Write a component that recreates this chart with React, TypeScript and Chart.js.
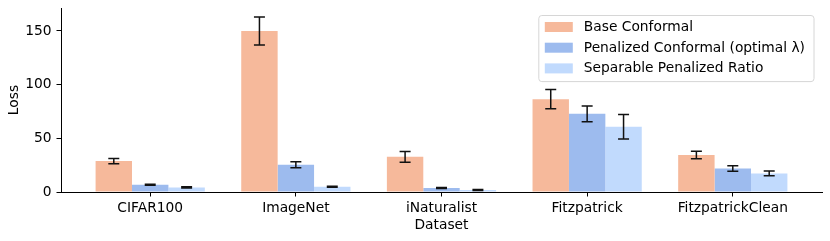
import React, { useEffect, useRef } from "react";
import { Chart, registerables } from "chart.js";

Chart.register(...registerables);

const categories = ["CIFAR100", "ImageNet", "iNaturalist", "Fitzpatrick", "FitzpatrickClean"];
const seriesLabels = ["Base Conformal", "Penalized Conformal (optimal λ)", "Separable Penalized Ratio"];
const baseConformal = [28.8, 150, 32.8, 86.5, 34.4];
const baseErr = [2.4, 13, 5, 9, 3.5];
const penalized = [6.8, 25.4, 3.7, 72.8, 21.9];
const penalizedErr = [0.5, 2.7, 0.4, 7.4, 2.6];
const separable = [4.3, 4.9, 1.9, 60.7, 17.3];
const separableErr = [0.5, 0.5, 0.4, 11.4, 2.2];
const yTicks = [0, 50, 100, 150];

const colors = ["#F6B99B", "#9DBBEE", "#C1DAFD"];
const FONT = "'DejaVu Sans', sans-serif";
const FS = 13.8;

const errorBarPlugin = {
  id: "errorBars",
  afterDatasetsDraw(chart: any) {
    const ctx = chart.ctx;
    const yScale = chart.scales.y;
    ctx.save();
    ctx.strokeStyle = "#111";
    ctx.lineWidth = 1.5;
    chart.data.datasets.forEach((ds: any, di: number) => {
      const meta = chart.getDatasetMeta(di);
      meta.data.forEach((bar: any, i: number) => {
        const v = ds.data[i].y;
        const e = ds.errors[i];
        const yTop = yScale.getPixelForValue(v + e);
        const yBot = yScale.getPixelForValue(v - e);
        const x = bar.x;
        const cap = 5.5;
        ctx.beginPath();
        ctx.moveTo(x, yTop);
        ctx.lineTo(x, yBot);
        ctx.moveTo(x - cap, yTop);
        ctx.lineTo(x + cap, yTop);
        ctx.moveTo(x - cap, yBot);
        ctx.lineTo(x + cap, yBot);
        ctx.stroke();
      });
    });
    ctx.restore();
  },
};

const legendPlugin = {
  id: "boxLegend",
  afterDraw(chart: any) {
    const ctx = chart.ctx;
    const area = chart.chartArea;
    ctx.save();
    ctx.font = `${FS}px ${FONT}`;
    const labels = chart.data.datasets.map((d: any) => d.label);
    const maxW = Math.max(...labels.map((l: string) => ctx.measureText(l).width));
    const right = area.right - 8;
    const top = 15.5;
    const rowH = 20.7;
    const padL = 6;
    const patchW = 28;
    const gap = 11;
    const width = padL + patchW + gap + maxW + 9;
    const left = right - width;
    const height = rowH * labels.length + 4;
    ctx.beginPath();
    (ctx as any).roundRect(left, top, width, height, 3);
    ctx.fillStyle = "rgba(255,255,255,0.8)";
    ctx.fill();
    ctx.strokeStyle = "#d6d6d6";
    ctx.lineWidth = 1;
    ctx.stroke();
    labels.forEach((l: string, i: number) => {
      const cy = top + 11.5 + i * rowH;
      ctx.fillStyle = chart.data.datasets[i].backgroundColor;
      ctx.fillRect(left + padL, cy - 5, patchW, 10);
      ctx.fillStyle = "#000";
      ctx.textBaseline = "middle";
      ctx.textAlign = "left";
      ctx.fillText(l, left + padL + patchW + gap, cy + 0.5);
    });
    ctx.restore();
  },
};

export default function App() {
  const ref = useRef<HTMLCanvasElement>(null);
  useEffect(() => {
    if (!ref.current) return;
    const series = [baseConformal, penalized, separable];
    const errs = [baseErr, penalizedErr, separableErr];
    const chart = new Chart(ref.current, {
      type: "bar",
      data: {
        datasets: series.map((s, si) => ({
          label: seriesLabels[si],
          data: s.map((v, i) => ({ x: i, y: v })),
          errors: errs[si],
          backgroundColor: colors[si],
          borderWidth: 0,
          barPercentage: 1,
          categoryPercentage: 0.75,
        })) as any,
      },
      options: {
        animation: false,
        responsive: false,
        devicePixelRatio: 1,
        layout: { padding: { top: 8, right: 8, bottom: 7, left: 0 } },
        plugins: { legend: { display: false }, tooltip: { enabled: false } },
        scales: {
          x: {
            type: "linear",
            min: -0.6125,
            max: categories.length - 1 + 0.6125,
            offset: false,
            afterBuildTicks: (scale: any) => {
              scale.ticks = categories.map((_, i) => ({ value: i }));
            },
            afterFit: (scale: any) => {
              scale.height = 42;
              scale.paddingLeft = 0;
              scale.paddingRight = 0;
            },
            ticks: {
              autoSkip: false,
              maxRotation: 0,
              color: "#000",
              padding: 3.5,
              font: { family: FONT, size: FS },
              callback: (v: any) => categories[v],
            },
            grid: {
              offset: false,
              drawOnChartArea: false,
              drawTicks: true,
              tickLength: 4.5,
              color: "#000",
              lineWidth: 1,
            },
            border: { display: true, color: "#000", width: 1 },
            title: {
              display: true,
              text: "Dataset",
              color: "#000",
              font: { family: FONT, size: FS },
              padding: { top: 0, bottom: 0 },
            },
          },
          y: {
            min: 0,
            max: 171.4,
            afterBuildTicks: (scale: any) => {
              scale.ticks = yTicks.map((v) => ({ value: v }));
            },
            afterFit: (scale: any) => {
              scale.width = 61;
              scale.paddingTop = 0;
              scale.paddingBottom = 0;
            },
            ticks: {
              color: "#000",
              padding: 5,
              font: { family: FONT, size: FS },
            },
            grid: {
              drawOnChartArea: false,
              drawTicks: true,
              tickLength: 4.5,
              color: "#000",
              lineWidth: 1,
            },
            border: { display: true, color: "#000", width: 1 },
            title: {
              display: true,
              text: "Loss",
              color: "#000",
              font: { family: FONT, size: FS },
              padding: { top: 6, bottom: 0 },
            },
          },
        },
      } as any,
      plugins: [errorBarPlugin, legendPlugin],
    });
    return () => chart.destroy();
  }, []);
  return (
    <div style={{ position: "fixed", left: 0, top: 0, width: 830, height: 241, background: "#fff" }}>
      <canvas ref={ref} width={830} height={241} />
    </div>
  );
}
